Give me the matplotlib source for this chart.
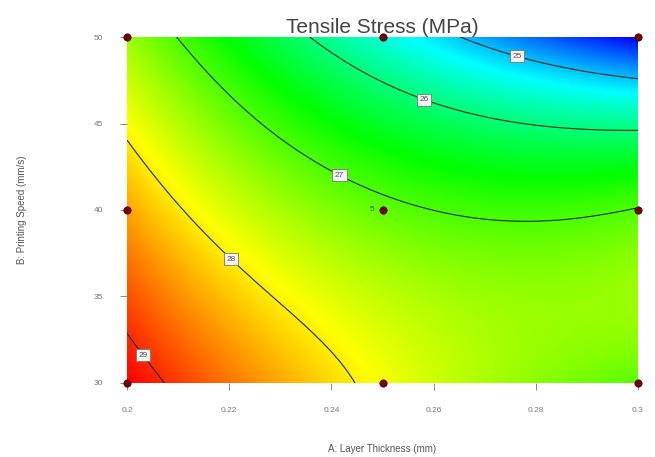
import matplotlib
matplotlib.use("Agg")
import matplotlib.pyplot as plt
from matplotlib.colors import LinearSegmentedColormap
import numpy as np

plt.rcParams["font.family"] = ["Liberation Sans", "DejaVu Sans"]

# ---------------------------------------------------------------------------
# Data: design points (face-centred 3x3) and estimated response at each
# ---------------------------------------------------------------------------
layer_thickness = [0.2, 0.25, 0.3]          # mm
printing_speed = [30, 40, 50]               # mm/s
# rows: printing speed 30, 40, 50 ; cols: layer thickness 0.2, 0.25, 0.3
tensile_stress = [
    [29.23, 27.88, 27.06],
    [28.38, 27.11, 27.02],
    [27.40, 25.50, 24.00],
]
contour_levels = [25, 26, 27, 28, 29]
# where the contour labels sit (layer thickness, printing speed)
label_spots = [(0.2763, 48.8), (0.2577, 46.0), (0.2413, 41.85),
               (0.2198, 37.0), (0.2035, 31.7)]
center_runs = 5

x_ticks = [0.2, 0.22, 0.24, 0.26, 0.28, 0.3]
x_tick_labels = ["0.2", "0.22", "0.24", "0.26", "0.28", "0.3"]
y_ticks = [30, 35, 40, 45, 50]

# ---------------------------------------------------------------------------
# Biquadratic surface through the 9 design points
# ---------------------------------------------------------------------------
xd = np.asarray(layer_thickness)
yd = np.asarray(printing_speed)
zd = np.asarray(tensile_stress)


def coded(v, lo, hi):
    return (v - (lo + hi) / 2) / ((hi - lo) / 2)


def basis(a, b):
    return np.stack([np.ones_like(a), a, b, a * b, a**2, b**2,
                     a**2 * b, a * b**2, a**2 * b**2], axis=-1)


XX, YY = np.meshgrid(xd, yd)
A = coded(XX, xd.min(), xd.max()).ravel()
B = coded(YY, yd.min(), yd.max()).ravel()
coef, *_ = np.linalg.lstsq(basis(A, B), zd.ravel(), rcond=None)

xg = np.linspace(xd.min(), xd.max(), 300)
yg = np.linspace(yd.min(), yd.max(), 300)
XG, YG = np.meshgrid(xg, yg)
ZG = basis(coded(XG, xd.min(), xd.max()), coded(YG, yd.min(), yd.max())) @ coef

# ---------------------------------------------------------------------------
# Plot
# ---------------------------------------------------------------------------
cmap = LinearSegmentedColormap.from_list(
    "dx", ["#0000ff", "#00ffff", "#00ff00", "#ffff00", "#ff0000"])

fig = plt.figure(figsize=(6.55, 4.57), dpi=100)
ax = fig.add_axes([0.194, 0.162, 0.780, 0.757])

ax.imshow(ZG, origin="lower", aspect="auto", cmap=cmap,
          extent=[xd.min(), xd.max(), yd.min(), yd.max()],
          vmin=ZG.min(), vmax=ZG.max(), interpolation="bilinear")
cs = ax.contour(XG, YG, ZG, levels=contour_levels, colors="#1a2a1a",
                linewidths=0.8)
labels = ax.clabel(cs, fmt="%d", fontsize=6, inline=False, colors="#555555",
                   manual=label_spots)
for t in labels:
    t.set_rotation(0)
    t.set_bbox(dict(boxstyle="square,pad=0.3", facecolor="#f4f4f4",
                    edgecolor="#777777", linewidth=0.6))

ax.scatter(XX.ravel(), YY.ravel(), s=28, color="#7a0000", zorder=5,
           clip_on=False, edgecolors="#300000", linewidths=0.5)
ax.text(xd[1] - 0.0015, yd[1], str(center_runs), fontsize=6,
        color="#2a6a2a", ha="right", va="center", zorder=6)

ax.set_xlim(xd.min(), xd.max())
ax.set_ylim(yd.min(), yd.max())
ax.set_xticks(x_ticks)
ax.set_xticklabels(x_tick_labels)
ax.set_yticks(y_ticks)
ax.tick_params(labelsize=6, colors="#777777", length=5, width=0.6, pad=12)
for s in ax.spines.values():
    s.set_visible(False)

ax.set_title("Tensile Stress (MPa)", fontsize=15, color="#444444", pad=3)
ax.set_xlabel("A: Layer Thickness (mm)", fontsize=7, color="#555555",
              labelpad=22)
ax.set_ylabel("B: Printing Speed (mm/s)", fontsize=7, color="#555555",
              labelpad=48)

fig.savefig("out.png", dpi=100)
